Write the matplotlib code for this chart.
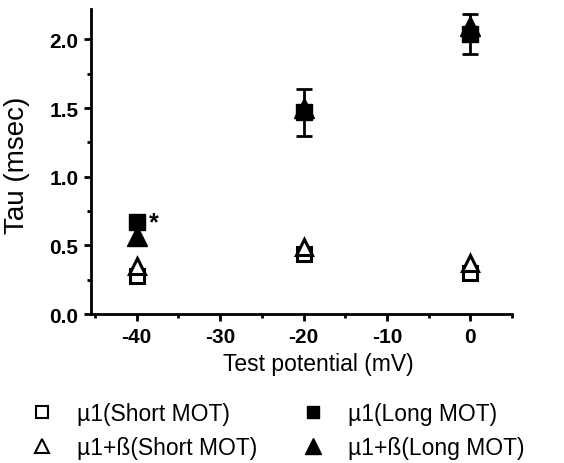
import matplotlib.pyplot as plt
from matplotlib.ticker import MultipleLocator
from matplotlib.lines import Line2D

plt.rcParams['font.family'] = ['Liberation Sans', 'DejaVu Sans']
plt.rcParams['axes.unicode_minus'] = False

# test potentials (mV)
potential = [-40, -20, 0]

# Tau (msec) for each condition
mu1_short = [0.28, 0.44, 0.30]
mu1b_short = [0.35, 0.49, 0.37]
mu1_long = [0.67, 1.47, 2.04]
mu1b_long = [0.57, 1.50, 2.10]

# error bars (only visible ones on the long MOT squares)
mu1_long_err = [0.0, 0.17, 0.145]

labels = ["µ1(Short MOT)", "µ1+ß(Short MOT)", "µ1(Long MOT)", "µ1+ß(Long MOT)"]

fig = plt.figure(figsize=(5.64, 4.64), dpi=100)
ax = fig.add_axes([0.161, 0.321, 0.747, 0.657])

ax.errorbar(potential, mu1_long, yerr=mu1_long_err, fmt='none', ecolor='black',
            elinewidth=2, capsize=6, capthick=2, zorder=2)
ax.plot(potential, mu1_long, 's', color='black', ms=12, zorder=3)
ax.plot(potential, mu1b_long, '^', color='black', ms=14, zorder=4)
ax.plot(potential, mu1_short, 's', mfc='white', mec='black', mew=2.2, ms=10, zorder=3)
ax.plot(potential, mu1b_short, '^', mfc='white', mec='black', mew=2.2, ms=12, zorder=4)

ax.annotate('*', xy=(potential[0], mu1_long[0]), xytext=(9, -5),
            textcoords='offset points', fontsize=18, fontweight='bold')

ax.set_xlim(-45.5, 5)
ax.set_ylim(0, 2.22)
ax.xaxis.set_major_locator(MultipleLocator(10))
ax.xaxis.set_minor_locator(MultipleLocator(5))
ax.yaxis.set_major_locator(MultipleLocator(0.5))
ax.yaxis.set_minor_locator(MultipleLocator(0.25))
ax.yaxis.set_major_formatter(plt.FormatStrFormatter('%.1f'))

for s in ['top', 'right']:
    ax.spines[s].set_visible(False)
for s in ['left', 'bottom']:
    ax.spines[s].set_linewidth(2)

ax.tick_params(which='major', length=5, width=2, labelsize=15, pad=4)
ax.tick_params(which='minor', length=3, width=2)
for lab in ax.get_xticklabels() + ax.get_yticklabels():
    lab.set_fontweight('bold')

ax.set_xlabel("Test potential (mV)", fontsize=16.5)
ax.xaxis.set_label_coords(0.54, -0.125)
ax.set_ylabel("Tau (msec)", fontsize=20)
ax.yaxis.set_label_coords(-0.145, 0.49)

handles = [
    Line2D([], [], ls='none', marker='s', mfc='white', mec='black', mew=1.5, ms=8),
    Line2D([], [], ls='none', marker='^', mfc='white', mec='black', mew=1.5, ms=10),
    Line2D([], [], ls='none', marker='s', color='black', ms=9),
    Line2D([], [], ls='none', marker='^', color='black', ms=11),
]
fig.legend(handles, labels, ncol=2, loc='upper left', bbox_to_anchor=(0.054, 0.131),
           frameon=False, fontsize=16.5, handletextpad=1.05, columnspacing=1.9,
           labelspacing=0.48, handlelength=1.0, borderpad=0, borderaxespad=0)

fig.savefig("out.png", dpi=100)
